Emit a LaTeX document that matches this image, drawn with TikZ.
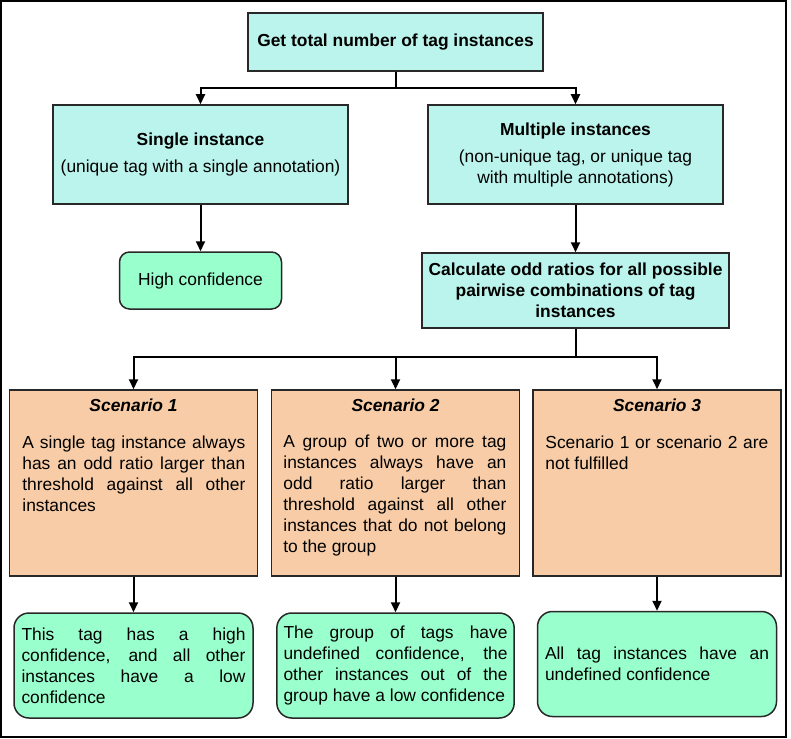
\documentclass[tikz,border=0pt]{standalone}
\usepackage{fontspec}
\setmainfont{Liberation Sans}
\usetikzlibrary{arrows.meta, positioning}
\hbadness=10000

\definecolor{procfill}{RGB}{187,244,236}
\definecolor{resfill}{RGB}{153,255,204}
\definecolor{scenfill}{RGB}{247,204,166}
\definecolor{edgegray}{RGB}{40,40,40}

\begin{document}
\begin{tikzpicture}[
    x=0.5pt, y=-0.5pt,
    every node/.style={font=\fontsize{8.7pt}{10.5pt}\selectfont},
    arrow/.style={-{Triangle[length=5pt, width=4.5pt]}, line width=1pt},
    link/.style={line width=1pt},
    procbox/.style={draw=edgegray, line width=0.75pt, fill=procfill, align=center},
    resbox/.style={draw=edgegray, line width=0.75pt, fill=resfill},
    scenbox/.style={draw=edgegray, line width=0.75pt, fill=scenfill, minimum width=124pt, minimum height=93pt},
    headtext/.style={font=\fontsize{8.7pt}{10.5pt}\selectfont\bfseries\itshape},
    bodytext/.style={text width=111.5pt, align=justify, inner sep=0pt, anchor=north west}
]

\useasboundingbox (0,0) rectangle (791,738);
\draw[line width=0.75pt] (1,1) rectangle (786,737);

% ============ TOP: COUNT ============
\node[procbox, minimum width=147.5pt, minimum height=29pt] (total) at (395.5,42) {\textbf{Get total number of tag instances}};

\node[procbox, minimum width=147.5pt, minimum height=49.5pt] (single) at (200.5,154.5) {\textbf{Single instance}\\[3pt](unique tag with a single annotation)};
\node[procbox, minimum width=147.5pt, minimum height=49.5pt] (multi) at (575.5,154.5) {\textbf{Multiple instances}\\[3pt](non-unique tag, or unique tag\\with multiple annotations)};

\node[resbox, rounded corners=5pt, minimum width=81pt, minimum height=28.5pt] (high) at (200.5,280.5) {High confidence};

\node[procbox, minimum width=152.5pt, minimum height=37.5pt, font=\fontsize{8.7pt}{10.5pt}\selectfont\bfseries] (calc) at (575.5,290.5) {Calculate odd ratios for all possible\\pairwise combinations of tag\\instances};

% ============ SCENARIOS ============
\node[scenbox] (scen1) at (133.5,483) {};
\node[headtext] (head1) at (133.5,405) {Scenario 1};
\node[bodytext] (body1) at (22,435) {A single tag instance always\linebreak has an odd ratio larger than\linebreak threshold against all other\linebreak instances};

\node[scenbox] (scen2) at (395.5,483) {};
\node[headtext] (head2) at (395.5,405) {Scenario 2};
\node[bodytext] (body2) at (283,435) {A group of two or more tag\linebreak instances always have an\linebreak odd ratio larger than\linebreak threshold against all other\linebreak instances that do not belong\linebreak to the group};

\node[scenbox] (scen3) at (657,483) {};
\node[headtext] (head3) at (657,405) {Scenario 3};
\node[bodytext] (body3) at (545,435) {Scenario 1 or scenario 2 are\linebreak not fulfilled};

% ============ OUTCOMES ============
\node[resbox, rounded corners=7.5pt, minimum width=119.5pt, minimum height=52.5pt, text width=112pt, align=justify] (res1) at (133.5,665.5) {This tag has a high\linebreak confidence, and all other\linebreak instances have a low\linebreak confidence};
\node[resbox, rounded corners=7.5pt, minimum width=118.5pt, minimum height=52.5pt, text width=112pt, align=justify] (res2) at (395.5,665.5) {The group of tags have\linebreak undefined confidence, the\linebreak other instances out of the\linebreak group have a low confidence};
\node[resbox, rounded corners=7.5pt, minimum width=119.5pt, minimum height=52.5pt, text width=112pt, align=justify] (res3) at (657,664) {All tag instances have an\linebreak undefined confidence};

% ============ CONNECTORS ============
\coordinate (fork1) at (395.5,88);
\draw[link] (total) -- (fork1);
\draw[arrow] (fork1) -| (single);
\draw[arrow] (fork1) -| (multi);

\draw[arrow] (single) -- (high);
\draw[arrow] (multi) -- (calc);

\coordinate (fork2) at (575.5,357);
\draw[link] (calc) -- (fork2);
\draw[arrow] (fork2) -| (scen1);
\draw[arrow] (fork2) -| (scen3);
\draw[arrow] (fork2 -| scen2) -- (scen2);

\draw[arrow] (scen1) -- (res1);
\draw[arrow] (scen2) -- (res2);
\draw[arrow] (scen3) -- (res3);

\end{tikzpicture}
\end{document}
